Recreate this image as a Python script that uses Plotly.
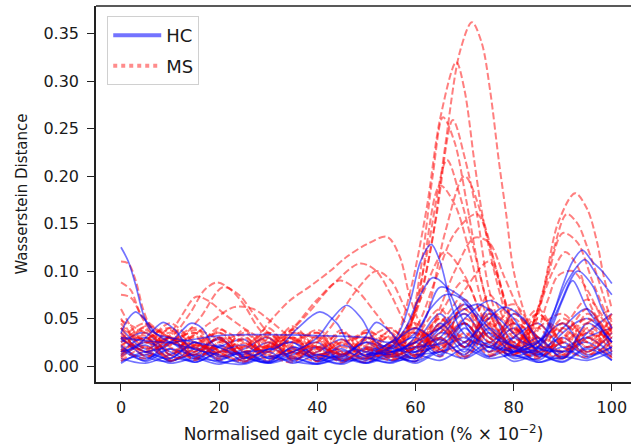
import plotly.graph_objects as go

# x grid (normalised gait cycle %) shared by the low-level background curves
grid_x = [0, 5, 10, 15, 20, 25, 30, 35, 40, 45, 50, 55, 60, 65, 70, 75, 80, 85, 90, 95, 100]

# values below are Wasserstein distance in thousandths (x1e-3)
ms_background = [
    [30, 12, 28, 8, 22, 5, 18, 30, 10, 25, 6, 20, 8, 45, 20, 38, 12, 30, 8, 35, 18],
    [45, 20, 35, 10, 30, 15, 5, 25, 35, 12, 28, 8, 30, 60, 25, 50, 15, 25, 45, 20, 40],
    [20, 38, 12, 32, 6, 24, 12, 4, 22, 8, 30, 15, 5, 35, 55, 20, 40, 10, 28, 50, 30],
    [12, 30, 5, 22, 35, 10, 28, 15, 5, 20, 12, 32, 10, 25, 8, 45, 65, 30, 15, 35, 12],
    [35, 15, 40, 20, 8, 30, 12, 35, 18, 6, 25, 12, 35, 15, 70, 30, 50, 20, 8, 40, 25],
    [8, 25, 10, 35, 15, 4, 20, 8, 30, 14, 4, 22, 45, 10, 35, 12, 30, 55, 20, 10, 45],
    [50, 18, 30, 6, 25, 12, 35, 20, 8, 28, 10, 18, 25, 50, 20, 60, 25, 40, 12, 45, 60],
    [25, 40, 12, 25, 10, 38, 15, 28, 5, 35, 18, 6, 20, 55, 90, 40, 60, 15, 30, 60, 20],
    [15, 28, 40, 12, 30, 8, 25, 10, 32, 12, 28, 40, 15, 30, 12, 45, 20, 55, 25, 15, 35],
    [40, 10, 25, 35, 12, 28, 6, 30, 15, 38, 8, 25, 40, 15, 50, 25, 12, 40, 55, 25, 10],
    [5, 20, 8, 15, 28, 10, 22, 6, 18, 4, 20, 8, 12, 28, 10, 35, 22, 8, 30, 12, 25],
    [28, 45, 15, 30, 10, 20, 35, 12, 25, 10, 30, 15, 28, 40, 60, 25, 45, 30, 12, 38, 15],
    [60, 25, 38, 15, 30, 8, 20, 30, 10, 22, 35, 12, 25, 45, 80, 110, 45, 25, 40, 70, 35],
    [18, 8, 30, 20, 40, 15, 30, 8, 20, 12, 22, 35, 10, 40, 20, 50, 30, 15, 45, 25, 50],
    [10, 35, 20, 8, 25, 32, 10, 22, 35, 15, 8, 25, 35, 18, 45, 15, 35, 20, 10, 30, 8],
    [32, 15, 25, 40, 15, 6, 22, 38, 12, 25, 30, 10, 20, 35, 60, 30, 20, 50, 35, 15, 40],
    [22, 32, 6, 18, 35, 20, 40, 15, 30, 6, 18, 30, 12, 50, 30, 75, 35, 60, 25, 45, 20],
    [40, 28, 45, 25, 15, 35, 18, 42, 20, 35, 15, 38, 20, 30, 45, 20, 55, 30, 40, 20, 55],
    [48, 35, 22, 38, 28, 18, 32, 25, 38, 22, 35, 28, 18, 42, 25, 55, 40, 20, 50, 30, 38],
    [15, 42, 30, 12, 38, 25, 15, 35, 28, 12, 38, 22, 40, 20, 65, 30, 25, 45, 15, 55, 28],
]

hc_background = [
    [20, 8, 18, 4, 15, 10, 3, 14, 8, 2, 12, 6, 15, 30, 10, 25, 8, 15, 30, 12, 20],
    [35, 15, 25, 8, 20, 5, 18, 10, 3, 16, 8, 14, 25, 55, 20, 35, 12, 8, 35, 50, 25],
    [10, 22, 5, 18, 8, 14, 4, 20, 8, 12, 25, 6, 10, 25, 45, 15, 30, 10, 20, 8, 30],
    [25, 35, 12, 6, 20, 28, 8, 15, 25, 6, 18, 10, 20, 40, 15, 55, 25, 12, 40, 60, 15],
    [8, 3, 12, 20, 5, 2, 10, 5, 2, 8, 3, 10, 5, 18, 30, 10, 20, 4, 15, 25, 6],
    [40, 18, 30, 10, 22, 12, 25, 8, 15, 28, 10, 20, 30, 12, 45, 20, 40, 15, 8, 30, 40],
    [15, 30, 8, 25, 12, 3, 15, 25, 5, 12, 3, 15, 8, 30, 55, 25, 45, 15, 5, 20, 10],
    [30, 10, 5, 15, 28, 10, 4, 12, 20, 6, 15, 22, 8, 45, 20, 60, 15, 25, 45, 15, 35],
    [5, 12, 3, 8, 2, 10, 3, 8, 2, 10, 4, 12, 3, 15, 8, 20, 5, 12, 4, 18, 6],
    [22, 5, 18, 12, 30, 8, 18, 25, 10, 3, 20, 12, 25, 10, 40, 15, 55, 30, 10, 35, 55],
    [12, 25, 15, 4, 15, 22, 8, 18, 6, 22, 10, 4, 18, 28, 12, 40, 20, 6, 25, 10, 20],
    [28, 15, 8, 25, 10, 18, 30, 6, 20, 12, 25, 15, 5, 35, 25, 10, 30, 45, 20, 30, 12],
    [3, 15, 6, 12, 4, 8, 15, 3, 12, 5, 8, 3, 12, 6, 18, 8, 12, 4, 10, 6, 15],
    [18, 6, 25, 10, 6, 15, 5, 20, 12, 18, 6, 25, 15, 40, 65, 30, 15, 30, 8, 45, 25],
]

# MS curves with distinct peaks, over the part of the cycle where they rise (x1e-3)
ms_peak_x = [
    [52, 56, 60, 63, 66, 69, 71.5, 73.5, 75.2, 77, 78.6, 80, 83, 86, 90],
    [50, 53, 56, 59, 62.3, 65, 68.3, 70, 72, 73.7, 77, 80, 85],
    [50, 52, 56, 60, 64, 67.6, 70, 72.5, 75, 78, 82, 86],
    [52, 55, 58, 62, 66.4, 69, 72, 75, 78, 85],
    [52, 56, 60, 65, 68, 71, 74, 78, 85],
    [50, 55, 60, 64, 68, 72.5, 76, 80, 85],
    [50, 55, 58, 61, 63.5, 65.6, 68, 70.5, 73, 76, 80, 85],
    [54, 58, 62, 66, 70, 74, 77, 80, 85],
    [55, 60, 64, 68, 72, 75, 78, 82, 86, 90],
    [52, 57, 61, 66, 70, 74, 80, 84],
    [75, 80, 83, 86, 89, 92.5, 95, 97, 98.2, 100],
    [76, 82, 85, 88, 90.8, 93, 95, 97, 100],
    [76, 80, 84, 87, 90, 93, 96, 100],
    [78, 82, 85, 88, 90.5, 93, 96, 100],
    [78, 84, 87, 89, 92, 95, 98, 100],
    [0, 1.5, 3, 4.5, 6, 8, 12, 18, 24],
    [0, 2, 4, 7, 10, 15, 22],
    [0, 2, 5, 8, 12, 20],
    [5, 10, 14, 17, 19.5, 22, 25, 28, 32, 38],
    [6, 12, 16, 20.7, 24, 27, 30, 35, 42],
    [3, 9, 12, 15.3, 18, 21, 25, 30, 36],
    [8, 14, 18, 23, 27, 31, 36, 44],
    [20, 27, 30, 34.4, 38, 42.6, 46, 50, 54.2, 56.8, 59, 62, 66],
    [25, 28, 33, 38, 43, 48.7, 52, 55, 58, 62, 66],
    [25, 30, 35, 40, 44.6, 48, 52, 56, 62],
    [32, 35, 40, 44, 48, 52, 55, 58, 62, 66],
]
ms_peak_y = [
    [12, 25, 60, 120, 230, 330, 362, 340, 290, 215, 155, 100, 45, 20, 25],
    [20, 15, 30, 80, 167, 260, 320, 290, 215, 157, 80, 35, 15],
    [10, 15, 25, 55, 150, 259, 220, 160, 80, 35, 15, 20],
    [20, 15, 30, 110, 217, 180, 120, 60, 25, 12],
    [10, 20, 60, 190, 170, 120, 60, 20, 10],
    [12, 20, 40, 90, 140, 160, 110, 45, 15],
    [18, 12, 25, 100, 200, 262, 235, 170, 100, 45, 18, 14],
    [14, 15, 50, 140, 200, 150, 90, 40, 15],
    [10, 20, 50, 100, 135, 130, 95, 50, 20, 25],
    [15, 25, 70, 120, 95, 50, 20, 30],
    [10, 20, 35, 80, 150, 182, 165, 130, 98, 60],
    [15, 25, 60, 120, 160, 150, 125, 95, 45],
    [20, 12, 40, 95, 140, 130, 90, 40],
    [18, 25, 60, 100, 120, 105, 60, 30],
    [15, 30, 70, 95, 100, 80, 50, 35],
    [110, 108, 90, 60, 42, 35, 25, 20, 15],
    [88, 80, 55, 40, 30, 22, 15],
    [75, 72, 45, 30, 22, 14],
    [25, 30, 55, 80, 88, 82, 65, 40, 20, 12],
    [25, 30, 50, 83, 75, 55, 35, 18, 12],
    [30, 28, 50, 73, 68, 55, 40, 25, 12],
    [20, 30, 45, 62, 60, 45, 25, 15],
    [15, 25, 45, 69, 82, 100, 115, 128, 136, 115, 70, 35, 20],
    [15, 18, 30, 55, 85, 108, 100, 75, 45, 25, 15],
    [15, 20, 40, 70, 90, 80, 55, 30, 15],
    [12, 15, 25, 50, 80, 100, 90, 60, 30, 15],
]

# HC curves with distinct humps
hc_peak_x = [
    [0, 1.5, 3, 4.5, 6, 8, 12, 20],
    [0, 1.5, 3, 5, 7, 10, 15],
    [0, 3, 6, 8.6, 11, 14, 20],
    [5, 9, 12, 14.2, 16.5, 19, 25],
    [30, 35, 40, 43, 46, 49, 52, 58],
    [25, 32, 36, 40.5, 44, 47, 55],
    [40, 45, 49, 52, 55, 58, 64],
    [50, 56, 59, 61, 63.2, 65, 67, 69, 72, 80],
    [50, 55, 58, 61, 63.5, 66, 69, 72, 80],
    [50, 55, 60, 63, 66, 69, 72, 76, 85],
    [55, 60, 66, 70, 75.2, 80, 84, 90],
    [60, 65, 70, 74, 78, 82, 86, 92],
    [78, 84, 87, 90, 92, 94, 96, 98, 100],
    [78, 85, 88, 91, 94.5, 97, 100],
    [78, 82, 86, 89, 93, 96, 98, 100],
    [78, 80, 86, 90, 92, 95, 100],
    [50, 58, 62, 65, 70, 75, 80, 86],
    [55, 60, 65, 70, 73, 77, 82, 88],
    [0, 10, 20, 30, 40, 50, 55, 60, 65],
]
hc_peak_y = [
    [125, 110, 85, 55, 38, 32, 28, 20],
    [35, 50, 57, 48, 35, 25, 18],
    [15, 20, 35, 46, 38, 20, 12],
    [15, 20, 35, 45, 40, 22, 12],
    [10, 15, 30, 50, 64, 50, 25, 15],
    [15, 20, 40, 57, 45, 20, 12],
    [12, 10, 25, 46, 35, 15, 20],
    [12, 30, 70, 110, 128, 110, 70, 40, 25, 15],
    [12, 20, 40, 75, 93, 85, 55, 30, 15],
    [10, 18, 35, 60, 75, 72, 55, 30, 15],
    [15, 20, 25, 50, 69, 50, 20, 15],
    [12, 15, 25, 45, 62, 50, 20, 15],
    [20, 15, 40, 85, 110, 122, 110, 100, 87],
    [12, 25, 55, 90, 112, 95, 75],
    [10, 20, 30, 60, 100, 85, 60, 40],
    [15, 10, 25, 70, 90, 60, 25],
    [12, 20, 50, 83, 70, 40, 20, 12],
    [15, 25, 40, 60, 65, 50, 25, 15],
    [30, 25, 32, 33, 32, 30, 25, 40, 20],
]

x_ticks = [0, 20, 40, 60, 80, 100]
y_ticks = [0.0, 0.05, 0.10, 0.15, 0.20, 0.25, 0.30, 0.35]

MS_LINE = dict(color="rgba(255,0,0,0.5)", width=2, dash="7px,3px", shape="spline", smoothing=0.9)
HC_LINE = dict(color="rgba(0,0,255,0.55)", width=1.7, shape="spline", smoothing=0.9)


def add_curve(fig, xs, ys, line):
    fig.add_trace(go.Scatter(x=xs, y=[v / 1000 for v in ys], mode="lines",
                             line=line, showlegend=False, hoverinfo="skip"))


fig = go.Figure()

# background curves drawn alternately so neither group hides the other
n = max(len(ms_background), len(hc_background))
for i in range(n):
    if i < len(ms_background):
        add_curve(fig, grid_x, ms_background[i], MS_LINE)
    if i < len(hc_background):
        add_curve(fig, grid_x, hc_background[i], HC_LINE)
for xs, ys in zip(ms_peak_x, ms_peak_y):
    add_curve(fig, xs, ys, MS_LINE)
for xs, ys in zip(hc_peak_x, hc_peak_y):
    add_curve(fig, xs, ys, HC_LINE)

# legend entries only
fig.add_trace(go.Scatter(x=[None], y=[None], mode="lines", name="HC", legendgroup="hc",
                         line=dict(color="rgba(0,0,255,0.55)", width=4)))
fig.add_trace(go.Scatter(x=[None], y=[None], mode="lines", name="MS", legendgroup="ms",
                         line=dict(color="rgba(255,0,0,0.45)", width=4, dash="dot")))

fig.update_layout(
    width=631, height=447,
    margin=dict(l=96, r=0, t=6, b=65),
    paper_bgcolor="white", plot_bgcolor="white",
    font=dict(family="DejaVu Sans", size=16, color="#1a1a1a"),
    legend=dict(x=0.021, y=0.973, xanchor="left", yanchor="top",
                bordercolor="#d0d0d0", borderwidth=1, bgcolor="white",
                font=dict(family="DejaVu Sans", size=18, color="#1a1a1a"),
                itemwidth=48, tracegroupgap=4, traceorder="grouped"),
    xaxis=dict(range=[-5.09, 103.9], tickvals=x_ticks, showgrid=False, zeroline=False,
               showline=True, linecolor="#222", linewidth=1.5, automargin=False,
               ticks="outside", ticklen=7, tickcolor="#222", tickwidth=1.2,
               ticklabelstandoff=3,
               tickfont=dict(family="DejaVu Sans", size=16, color="#1a1a1a"),
               title=dict(text="Normalised gait cycle duration (% \u00d7 10<sup>\u22122</sup>)",
                          font=dict(family="DejaVu Sans", size=17, color="#1a1a1a"), standoff=12)),
    yaxis=dict(range=[-0.0168, 0.379], tickvals=y_ticks, tickformat=".2f", showgrid=False,
               zeroline=False, showline=True, linecolor="#222", linewidth=1.5, automargin=False,
               ticks="outside", ticklen=7, tickcolor="#222", tickwidth=1.2,
               ticklabelstandoff=5,
               tickfont=dict(family="DejaVu Sans", size=16, color="#1a1a1a"),
               title=dict(text="Wasserstein Distance",
                          font=dict(family="DejaVu Sans", size=15, color="#1a1a1a"), standoff=12)),
    shapes=[dict(type="line", xref="paper", yref="paper", x0=0, x1=1, y0=1, y1=1,
                 line=dict(color="#222", width=1.5))],
)

# drop the page's default body margin so the figure sits at the window origin
fig.write_html("out.html", config={"displayModeBar": False},
               post_script="document.body.style.margin='0';")
